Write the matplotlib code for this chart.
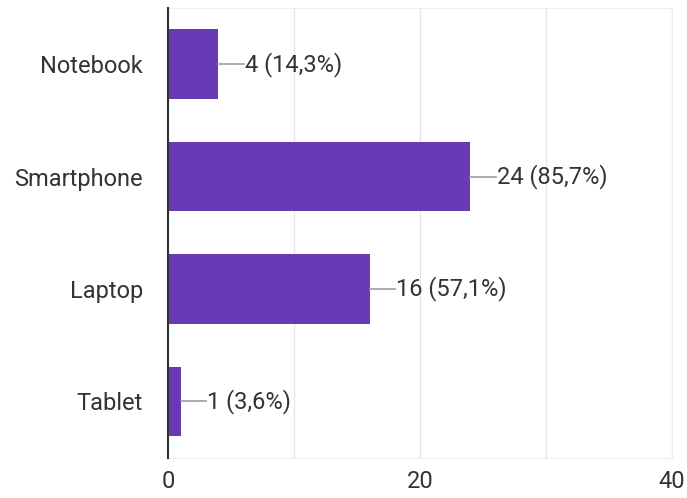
import matplotlib
matplotlib.use("Agg")
import matplotlib.pyplot as plt

categories = ["Notebook", "Smartphone", "Laptop", "Tablet"]
counts = [4, 24, 16, 1]
percents = ["14,3%", "85,7%", "57,1%", "3,6%"]
x_ticks = [0, 20, 40]

plt.rcParams["font.family"] = ["Roboto", "DejaVu Sans"]
txt = "#333333"

fig = plt.figure(figsize=(6.87, 4.98), dpi=100)
ax = fig.add_axes([0.2445, 0.081, 0.7335, 0.903])

ypos = list(range(len(categories)))
ax.barh(ypos, counts, height=0.62, color="#673ab7", zorder=3)

for y, c, p in zip(ypos, counts, percents):
    ax.plot([c, c + 2], [y, y], color="#9e9e9e", lw=1.2, zorder=3)
    ax.text(c + 2.1, y, f"{c} ({p})", va="center", ha="left",
            fontsize=17, color=txt)

ax.set_xlim(0, 40)
ax.set_ylim(3.5, -0.5)
ax.set_xticks(x_ticks)
ax.set_xticks([10, 30], minor=True)
ax.set_yticks(ypos)
ax.set_yticklabels(categories)
ax.grid(axis="x", which="both", color="#e6e6e6", lw=1, zorder=0)
ax.tick_params(axis="both", length=0, labelsize=17, colors=txt)
ax.tick_params(axis="x", which="minor", length=0)
ax.tick_params(axis="x", pad=9)
ax.tick_params(axis="y", pad=18)

for s in ["top", "right", "bottom"]:
    ax.spines[s].set_color("#eeeeee")
ax.spines["left"].set_color("#333333")
ax.spines["left"].set_linewidth(1.5)
ax.spines["left"].set_zorder(4)

fig.savefig("out.png", dpi=100)
